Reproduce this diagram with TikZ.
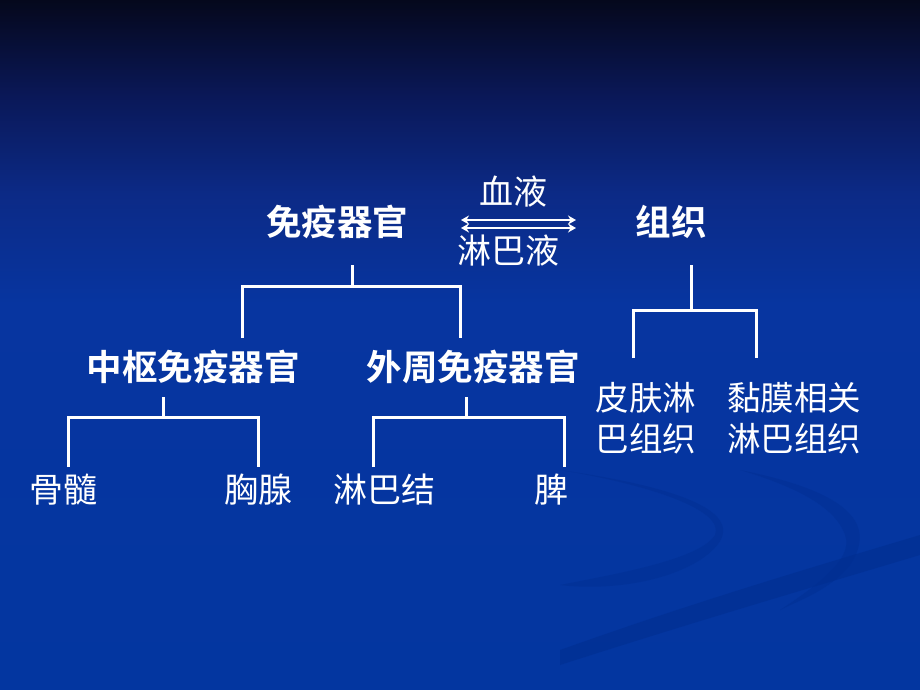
\documentclass[tikz,border=0pt]{standalone}
\usepackage{fontspec}
\usepackage{tikz}
\usetikzlibrary{arrows.meta}
\newfontfamily\cjk[BoldFont={Noto Sans CJK SC Bold}]{Noto Sans CJK SC}

\definecolor{bgtop}{HTML}{05081C}
\definecolor{bgA}{HTML}{0A1858}
\definecolor{bgB}{HTML}{0C2A86}
\definecolor{bgC}{HTML}{0735A0}
\definecolor{bgD}{HTML}{0336A0}
\definecolor{swoosh}{HTML}{002C8C}
\pgfdeclareverticalshading{slidebg}{100bp}{color(0bp)=(bgD); color(25bp)=(bgD);
  color(53bp)=(bgC); color(61bp)=(bgB); color(68bp)=(bgA); color(75bp)=(bgtop); color(100bp)=(bgtop)}

\begin{document}
\begin{tikzpicture}[
    x=1pt, y=-1pt,
    every node/.style={text=white, inner sep=0pt, font=\cjk\fontsize{34}{41}\selectfont},
    headline/.style={font=\cjk\bfseries\fontsize{35.5}{41}\selectfont},
    twoline/.style={align=center, font=\cjk\fontsize{33.5}{41}\selectfont},
    branch/.style={draw=white, line width=3pt},
    flow/.style={draw=white, line width=2pt, {Stealth[length=8pt,width=9pt]}-{Stealth[length=8pt,width=9pt]}}
    ]

    % background
    \useasboundingbox (0,0) rectangle (920,690);
    \shade[shading=slidebg] (0,0) rectangle (920,690);
    \fill[swoosh, opacity=0.35] (560,470) .. controls (700,490) and (760,520) .. (700,560)
        .. controls (660,585) and (600,590) .. (560,585)
        .. controls (610,575) and (700,560) .. (715,535)
        .. controls (725,510) and (650,485) .. (560,470) -- cycle;
    \fill[swoosh, opacity=0.35] (740,470) .. controls (840,490) and (880,520) .. (850,565)
        .. controls (830,590) and (800,600) .. (780,610)
        .. controls (810,590) and (855,560) .. (845,535)
        .. controls (835,505) and (790,485) .. (740,470) -- cycle;
    \fill[swoosh, opacity=0.45] (560,650) .. controls (700,600) and (820,565) .. (920,535)
        -- (920,555) .. controls (820,585) and (700,620) .. (560,665) -- cycle;

    % headings
    \node[headline] (top) at (337,222) {免疫器官};
    \node[headline] (tissue) at (671,222) {组织};
    \node[headline] (central) at (193,367) {中枢免疫器官};
    \node[headline] (periph) at (473,367) {外周免疫器官};

    % flow between organs and tissue
    \node (blood) at (513,192) {血液};
    \node (lymph) at (508,251) {淋巴液};
    \coordinate (flowL1) at (461,220);
    \coordinate (flowR1) at (576,220);
    \coordinate (flowL2) at (461,228);
    \coordinate (flowR2) at (576,228);
    \draw[flow] (flowL1) -- (flowR1);
    \draw[flow] (flowL2) -- (flowR2);

    % leaves
    \node (marrow) at (63,490) {骨髓};
    \node (thymus) at (258,490) {胸腺};
    \node (node) at (384,490) {淋巴结};
    \node (spleen) at (551,490) {脾};
    \node[twoline] (skin) at (646,418) {皮肤淋\\巴组织};
    \node[twoline] (mucosa) at (794,418) {黏膜相关\\淋巴组织};

    % branch points
    \coordinate (topStem) at (352,265);
    \coordinate (topFork) at (352,286);
    \coordinate (centralLeg) at (242,338);
    \coordinate (periphLeg) at (460,338);
    \coordinate (centralStem) at (163,397);
    \coordinate (centralFork) at (163,417);
    \coordinate (marrowLeg) at (68,467);
    \coordinate (thymusLeg) at (258,467);
    \coordinate (periphStem) at (466,397);
    \coordinate (periphFork) at (466,417);
    \coordinate (nodeLeg) at (373,467);
    \coordinate (spleenLeg) at (564,467);
    \coordinate (tissueStem) at (691,265);
    \coordinate (tissueFork) at (691,310);
    \coordinate (skinLeg) at (633,358);
    \coordinate (mucosaLeg) at (756,358);

    % branches
    \draw[branch] (topStem) -- (topFork);
    \draw[branch] (centralLeg) |- (topFork) -| (periphLeg);
    \draw[branch] (centralStem) -- (centralFork);
    \draw[branch] (marrowLeg) |- (centralFork) -| (thymusLeg);
    \draw[branch] (periphStem) -- (periphFork);
    \draw[branch] (nodeLeg) |- (periphFork) -| (spleenLeg);
    \draw[branch] (tissueStem) -- (tissueFork);
    \draw[branch] (skinLeg) |- (tissueFork) -| (mucosaLeg);

\end{tikzpicture}
\end{document}
